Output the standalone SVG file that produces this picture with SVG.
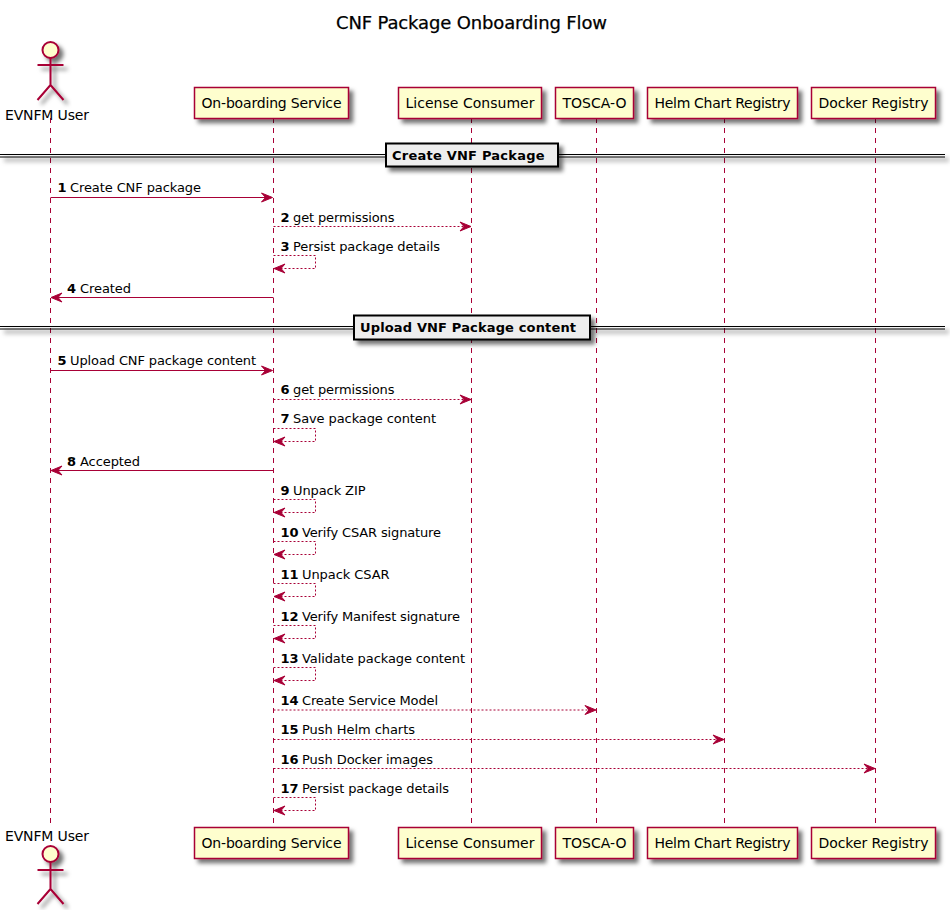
<svg xmlns="http://www.w3.org/2000/svg" width="950" height="910" viewBox="0 0 950 910">
<style>
text{font-family:"DejaVu Sans",sans-serif;fill:#000}
.t{font-size:18px;stroke:#000;stroke-width:.25}
.p{font-size:14px}
.m{font-size:13px}
.b{font-size:13px;font-weight:bold}
.life{stroke:#A80036;stroke-width:1;stroke-dasharray:5,5;fill:none}
.box{fill:#FEFECE;stroke:#A80036;stroke-width:1.5}
.act{fill:none;stroke:#A80036;stroke-width:2}
.head{fill:#FEFECE;stroke:#A80036;stroke-width:2}
.solid{stroke:#A80036;stroke-width:1;fill:none}
.dash{stroke:#A80036;stroke-width:1;stroke-dasharray:2,2;fill:none}
.ah{fill:#A80036;stroke:#A80036;stroke-width:1}
.dl{stroke:#000;stroke-width:1;fill:none}
.db{fill:#EEEEEE;stroke:#000;stroke-width:2}
</style>
<defs>
<filter id="sh" x="-20%" y="-20%" width="150%" height="160%">
<feGaussianBlur stdDeviation="2"/>
<feColorMatrix type="matrix" values="0 0 0 0 0 0 0 0 0 0 0 0 0 0 0 0 0 0 .55 0"/>
<feOffset dx="4" dy="4" result="o"/>
<feBlend in="SourceGraphic" in2="o"/>
</filter>
<polygon id="r" class="ah" points="-11,-4.5 0,0 -11,4.5 -7,0"/>
<polygon id="l" class="ah" points="11,-4.5 0,0 11,4.5 7,0"/>
</defs>
<text class="t" x="336" y="29" textLength="271">CNF Package Onboarding Flow</text>
<g id="lifelines">
<line class="life" x1="50.5" y1="118" x2="50.5" y2="827"/>
<line class="life" x1="273.5" y1="118" x2="273.5" y2="827"/>
<line class="life" x1="471.5" y1="118" x2="471.5" y2="827"/>
<line class="life" x1="596.5" y1="118" x2="596.5" y2="827"/>
<line class="life" x1="724.5" y1="118" x2="724.5" y2="827"/>
<line class="life" x1="875.5" y1="118" x2="875.5" y2="827"/>
</g>
<g id="evnfm-user-top">
<g filter="url(#sh)"><circle class="head" cx="50.5" cy="50" r="8"/><path class="act" d="M50.5 58V85M37.5 65H63.5M50.5 85L37.5 100M50.5 85L63.5 100"/></g>
<text class="p" x="5" y="120" textLength="84">EVNFM User</text>
</g>
<g id="onboarding-top"><rect class="box" filter="url(#sh)" x="194.5" y="87.5" width="154" height="31"/><text class="p" x="201.5" y="108" textLength="140">On-boarding Service</text></g>
<g id="license-top"><rect class="box" filter="url(#sh)" x="398.5" y="87.5" width="143" height="31"/><text class="p" x="405.5" y="108" textLength="129">License Consumer</text></g>
<g id="tosca-top"><rect class="box" filter="url(#sh)" x="555.5" y="87.5" width="78" height="31"/><text class="p" x="562.5" y="108" textLength="64">TOSCA-O</text></g>
<g id="helm-top"><rect class="box" filter="url(#sh)" x="647.5" y="87.5" width="150" height="31"/><text class="p" x="654.5" y="108" textLength="136">Helm Chart Registry</text></g>
<g id="docker-top"><rect class="box" filter="url(#sh)" x="811.5" y="87.5" width="124" height="31"/><text class="p" x="818.5" y="108" textLength="110">Docker Registry</text></g>
<g id="evnfm-user-bottom">
<text class="p" x="5" y="841" textLength="84">EVNFM User</text>
<g filter="url(#sh)"><circle class="head" cx="50.5" cy="854" r="8"/><path class="act" d="M50.5 862V889M37.5 870H63.5M50.5 889L37.5 904M50.5 889L63.5 904"/></g>
</g>
<g id="onboarding-bottom"><rect class="box" filter="url(#sh)" x="194.5" y="827.5" width="154" height="31"/><text class="p" x="201.5" y="848" textLength="140">On-boarding Service</text></g>
<g id="license-bottom"><rect class="box" filter="url(#sh)" x="398.5" y="827.5" width="143" height="31"/><text class="p" x="405.5" y="848" textLength="129">License Consumer</text></g>
<g id="tosca-bottom"><rect class="box" filter="url(#sh)" x="555.5" y="827.5" width="78" height="31"/><text class="p" x="562.5" y="848" textLength="64">TOSCA-O</text></g>
<g id="helm-bottom"><rect class="box" filter="url(#sh)" x="647.5" y="827.5" width="150" height="31"/><text class="p" x="654.5" y="848" textLength="136">Helm Chart Registry</text></g>
<g id="docker-bottom"><rect class="box" filter="url(#sh)" x="811.5" y="827.5" width="124" height="31"/><text class="p" x="818.5" y="848" textLength="110">Docker Registry</text></g>
<g id="divider-create" filter="url(#sh)">
<path class="dl" d="M0 154.5H945M0 157H945"/>
<rect class="db" x="386" y="143.5" width="172" height="23"/>
</g>
<text class="b" x="392" y="159.5" textLength="152.5">Create VNF Package</text>
<g id="divider-upload" filter="url(#sh)">
<path class="dl" d="M0 326.5H945M0 329H945"/>
<rect class="db" x="354" y="315.5" width="236" height="24"/>
</g>
<text class="b" x="360" y="332" textLength="216">Upload VNF Package content</text>
<g id="connectors">
<line class="solid" x1="50.5" y1="197.5" x2="266" y2="197.5"/><use href="#r" x="272.5" y="197.5"/>
<line class="dash" x1="273.5" y1="226.5" x2="464" y2="226.5"/><use href="#r" x="471" y="226.5"/>
<path class="dash" d="M273.5 255.5H315.5V268.5H280"/><use href="#l" x="274" y="268.5"/>
<line class="solid" x1="273.5" y1="297.5" x2="58" y2="297.5"/><use href="#l" x="51" y="297.5"/>
<line class="solid" x1="50.5" y1="370.5" x2="266" y2="370.5"/><use href="#r" x="272.5" y="370.5"/>
<line class="dash" x1="273.5" y1="399.5" x2="464" y2="399.5"/><use href="#r" x="471" y="399.5"/>
<path class="dash" d="M273.5 428.5H315.5V441.5H280"/><use href="#l" x="274" y="441.5"/>
<line class="solid" x1="273.5" y1="470.5" x2="58" y2="470.5"/><use href="#l" x="51" y="470.5"/>
<path class="dash" d="M273.5 499.5H315.5V512.5H280"/><use href="#l" x="274" y="512.5"/>
<path class="dash" d="M273.5 541.5H315.5V554.5H280"/><use href="#l" x="274" y="554.5"/>
<path class="dash" d="M273.5 583.5H315.5V596.5H280"/><use href="#l" x="274" y="596.5"/>
<path class="dash" d="M273.5 625.5H315.5V638.5H280"/><use href="#l" x="274" y="638.5"/>
<path class="dash" d="M273.5 667.5H315.5V680.5H280"/><use href="#l" x="274" y="680.5"/>
<line class="dash" x1="273.5" y1="710" x2="589" y2="710"/><use href="#r" x="596" y="710"/>
<line class="dash" x1="273.5" y1="739.5" x2="717" y2="739.5"/><use href="#r" x="724" y="739.5"/>
<line class="dash" x1="273.5" y1="768.5" x2="868" y2="768.5"/><use href="#r" x="875" y="768.5"/>
<path class="dash" d="M273.5 797.5H315.5V810.5H280"/><use href="#l" x="274" y="810.5"/>
</g>
<g id="labels">
<text class="b" x="57.5" y="192">1</text><text class="m" x="70" y="192" textLength="131">Create CNF package</text>
<text class="b" x="280.5" y="222">2</text><text class="m" x="293" y="222" textLength="101.5">get permissions</text>
<text class="b" x="280.5" y="251">3</text><text class="m" x="293" y="251" textLength="147">Persist package details</text>
<text class="b" x="67" y="293">4</text><text class="m" x="80" y="293" textLength="51">Created</text>
<text class="b" x="57.5" y="365">5</text><text class="m" x="70" y="365" textLength="186">Upload CNF package content</text>
<text class="b" x="280.5" y="394">6</text><text class="m" x="293" y="394" textLength="101.5">get permissions</text>
<text class="b" x="280.5" y="423">7</text><text class="m" x="293" y="423" textLength="143">Save package content</text>
<text class="b" x="67" y="466">8</text><text class="m" x="80" y="466" textLength="60">Accepted</text>
<text class="b" x="280.5" y="495">9</text><text class="m" x="293" y="495" textLength="72.5">Unpack ZIP</text>
<text class="b" x="280.5" y="537">10</text><text class="m" x="302" y="537" textLength="139">Verify CSAR signature</text>
<text class="b" x="280.5" y="579">11</text><text class="m" x="302" y="579" textLength="87.5">Unpack CSAR</text>
<text class="b" x="280.5" y="621">12</text><text class="m" x="302" y="621" textLength="158">Verify Manifest signature</text>
<text class="b" x="280.5" y="663">13</text><text class="m" x="302" y="663" textLength="163">Validate package content</text>
<text class="b" x="280.5" y="705">14</text><text class="m" x="302" y="705" textLength="136">Create Service Model</text>
<text class="b" x="280.5" y="734">15</text><text class="m" x="302" y="734" textLength="113">Push Helm charts</text>
<text class="b" x="280.5" y="764">16</text><text class="m" x="302" y="764" textLength="131">Push Docker images</text>
<text class="b" x="280.5" y="793">17</text><text class="m" x="302" y="793" textLength="147">Persist package details</text>
</g>
</svg>
